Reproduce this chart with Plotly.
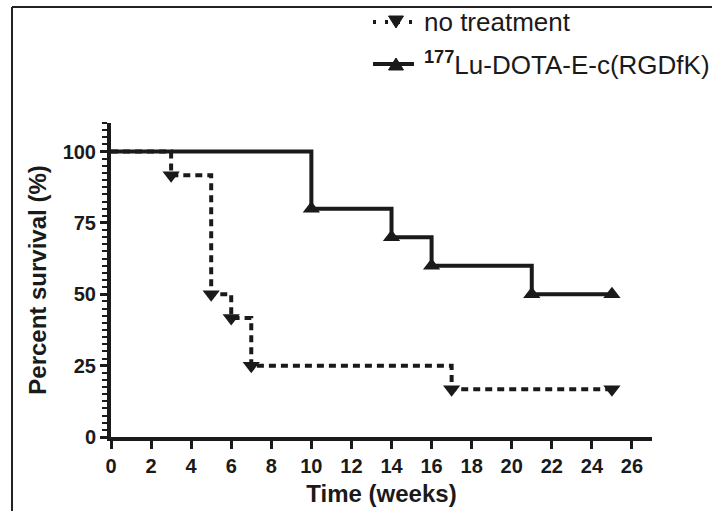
import plotly.graph_objects as go

# Kaplan-Meier step data (time in weeks, percent survival)
untreated_t = [0, 3, 5, 6, 7, 17, 25]
untreated_s = [100, 91.7, 50, 41.7, 25, 16.7, 16.7]
treated_t = [0, 10, 14, 16, 21, 25]
treated_s = [100, 80, 70, 60, 50, 50]

x_ticks = list(range(0, 27, 2))
y_ticks = [0, 25, 50, 75, 100]

name_untreated = "no treatment"
name_treated = "<sup><b>177</b></sup>Lu-DOTA-E-c(RGDfK)"

INK = "#1a1a1a"
DASH = "7px,5px"
FAM = "Liberation Sans, Arial, sans-serif"

fig = go.Figure()

# step lines
fig.add_trace(go.Scatter(x=untreated_t, y=untreated_s, mode="lines", line_shape="hv",
                         name=name_untreated,
                         line=dict(color=INK, width=4, dash=DASH), showlegend=False,
                         cliponaxis=False))
fig.add_trace(go.Scatter(x=treated_t, y=treated_s, mode="lines", line_shape="hv",
                         name=name_treated,
                         line=dict(color=INK, width=4), showlegend=False, cliponaxis=False))
# event markers
fig.add_trace(go.Scatter(x=untreated_t[1:], y=untreated_s[1:], mode="markers",
                         marker=dict(symbol="triangle-down", size=15, color=INK),
                         showlegend=False, cliponaxis=False))
fig.add_trace(go.Scatter(x=treated_t[1:], y=treated_s[1:], mode="markers",
                         marker=dict(symbol="triangle-up", size=15, color=INK),
                         showlegend=False, cliponaxis=False))

L, R, T, B = 111, 60, 123, 74
W, H = 712, 511
pw, ph = W - L - R, H - T - B

def px_x(p):
    return (p - L) / pw

def px_y(p):
    return (H - B - p) / ph

def tri_path(cx, cy, w, h, up=True):
    if up:
        pts = [(cx - w / 2, cy + h / 2), (cx + w / 2, cy + h / 2), (cx, cy - h / 2)]
    else:
        pts = [(cx - w / 2, cy - h / 2), (cx + w / 2, cy - h / 2), (cx, cy + h / 2)]
    return "M " + " L ".join(f"{px_x(a):.5f},{px_y(b):.5f}" for a, b in pts) + " Z"

tickfont = dict(family=FAM, size=20, color=INK, weight="bold")
titlefont = dict(family=FAM, size=24, color=INK)
legfont = dict(family=FAM, size=26, color=INK)

# manual legend (symbols as shapes, labels as text)
leg_rows = [(22, name_untreated, "3px,9px", False), (64, name_treated, None, True)]
shapes = [
    dict(type="line", xref="paper", yref="paper", x0=px_x(12), x1=px_x(712),
         y0=px_y(7), y1=px_y(7), line=dict(color="#222", width=2)),
    dict(type="line", xref="paper", yref="paper", x0=px_x(12), x1=px_x(12),
         y0=px_y(7), y1=px_y(511), line=dict(color="#222", width=2)),
]
annotations = []
for yc, label, dash, up in leg_rows:
    line = dict(color=INK, width=4)
    if dash:
        line["dash"] = dash
    shapes.append(dict(type="line", xref="paper", yref="paper",
                       x0=px_x(373), x1=px_x(414), y0=px_y(yc), y1=px_y(yc), line=line))
    shapes.append(dict(type="path", xref="paper", yref="paper",
                       path=tri_path(396, yc, 15, 12, up), fillcolor=INK,
                       line=dict(color=INK, width=1)))
    annotations.append(dict(xref="paper", yref="paper", x=px_x(422), y=px_y(yc),
                            xanchor="left", yanchor="middle", text=label, showarrow=False,
                            font=legfont))

fig.update_layout(
    width=W, height=H,
    margin=dict(l=L, r=R, t=T, b=B, autoexpand=False),
    paper_bgcolor="white", plot_bgcolor="white",
    showlegend=False,
    xaxis=dict(range=[0, 27], tickvals=x_ticks, ticktext=[str(v) for v in x_ticks],
               automargin=False,
               showgrid=False, zeroline=False, showline=True, linecolor=INK, linewidth=4,
               ticks="outside", ticklen=8, tickwidth=3, tickcolor=INK, tickfont=tickfont,
               title=dict(text="<b>Time (weeks)</b>", standoff=10, font=titlefont)),
    yaxis=dict(range=[0, 110], tickvals=y_ticks, ticktext=[str(v) for v in y_ticks],
               automargin=False,
               showgrid=False, zeroline=False, showline=True, linecolor=INK, linewidth=4,
               ticks="outside", ticklen=7, tickwidth=3, tickcolor=INK, tickfont=tickfont,
               minor=dict(dtick=2.5, tick0=0, ticks="outside", ticklen=5, tickwidth=2,
                          tickcolor=INK, showgrid=False),
               title=dict(text="<b>Percent survival (%)</b>", standoff=10, font=titlefont)),
    shapes=shapes,
    annotations=annotations,
)

fig.write_html("out.html")
